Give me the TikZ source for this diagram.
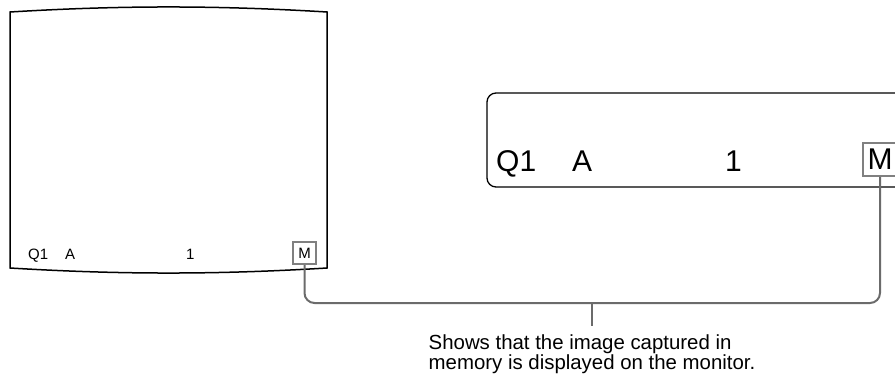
\documentclass[tikz,border=0pt]{standalone}
\usepackage{fontspec}
\setmainfont{Liberation Sans}
\usetikzlibrary{positioning}

\begin{document}
\begin{tikzpicture}[x=1pt, y=-1pt,
    frame/.style = {black, line width=1.5pt},
    mbox/.style = {draw=black!50, line width=2pt, inner sep=0pt},
    lead/.style = {draw=black!58, line width=2pt},
    smalltxt/.style = {anchor=base west, inner sep=0pt, font=\fontsize{15}{18}\selectfont},
    bigtxt/.style = {anchor=base west, inner sep=0pt, font=\fontsize{30}{36}\selectfont},
    note/.style = {align=left, inner sep=0pt, font=\fontsize{20.4}{20}\selectfont}
                    ]
        \useasboundingbox (0,0) rectangle (895,377);
        \clip (0,0) rectangle (895,377);
        % monitor screen
        \draw [frame] (10,12) .. controls (120,5.3) and (217,5.3) .. (327,12)
            -- (327,268) .. controls (217,274.7) and (120,274.7) .. (10,268) -- cycle;
        \foreach \x/\t/\n in {28/Q1/sq, 65/A/sa, 186/1/sone}
            \node[smalltxt] (\n) at (\x,259) {\t};
        \node[mbox, minimum width=23pt, minimum height=22pt,
              font=\fontsize{15}{18}\selectfont] (mleft) at (304.5,253) {M};
        % display window
        \draw [black, line width=1.3pt, rounded corners=9pt] (487,93) rectangle (940,187);
        \foreach \x/\t/\n in {496/Q1/bq, 572/A/ba, 725/1/bone}
            \node[bigtxt] (\n) at (\x,172) {\t};
        \node[mbox, minimum width=34pt, minimum height=33pt,
              font=\fontsize{30}{36}\selectfont] (mright) at (880,159.5) {M};
        % leader
        \coordinate (bend) at (592,303);
        \draw [lead, rounded corners=10pt] (mleft.south) -- (mleft.south |- bend)
            -- (mright.south |- bend) -- (mright.south);
        \node[note, below=32pt of bend] (note) {Shows that the image captured in\\
              memory is displayed on the monitor.};
        \draw [lead, shorten >=9pt] (bend) -- (note.north -| bend);
    \end{tikzpicture}
\end{document}
